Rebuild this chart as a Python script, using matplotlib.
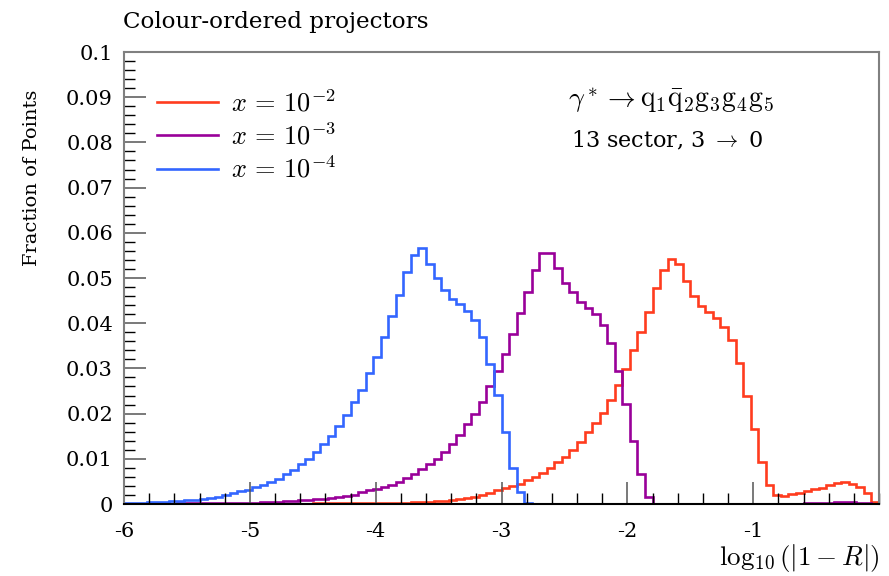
import numpy as np
import matplotlib
matplotlib.use("Agg")
import matplotlib.pyplot as plt
from matplotlib.ticker import MultipleLocator

plt.rcParams['font.family'] = ['DejaVu Serif']
plt.rcParams['mathtext.fontset'] = 'cm'
plt.rcParams['axes.unicode_minus'] = False

# 100 bins of log10(|1-R|) between -6 and 0
edges = np.linspace(-6.0, 0.0, 101)

frac_x1e2 = [
    0.0000, 0.0000, 0.0000, 0.0000, 0.0000, 0.0000, 0.0000, 0.0000, 0.0000, 0.0000,
    0.0000, 0.0000, 0.0001, 0.0001, 0.0001, 0.0001, 0.0001, 0.0001, 0.0001, 0.0001,
    0.0001, 0.0001, 0.0001, 0.0001, 0.0001, 0.0002, 0.0002, 0.0002, 0.0002, 0.0002,
    0.0002, 0.0002, 0.0002, 0.0002, 0.0003, 0.0003, 0.0003, 0.0003, 0.0004, 0.0004,
    0.0005, 0.0006, 0.0007, 0.0008, 0.0010, 0.0013, 0.0016, 0.0020, 0.0024, 0.0031,
    0.0035, 0.0040, 0.0044, 0.0052, 0.0059, 0.0068, 0.0079, 0.0092, 0.0105, 0.0119,
    0.0138, 0.0159, 0.0180, 0.0201, 0.0230, 0.0263, 0.0299, 0.0341, 0.0381, 0.0424,
    0.0477, 0.0517, 0.0542, 0.0532, 0.0493, 0.0460, 0.0439, 0.0424, 0.0412, 0.0392,
    0.0363, 0.0311, 0.0240, 0.0166, 0.0094, 0.0042, 0.0021, 0.0018, 0.0022, 0.0025,
    0.0029, 0.0033, 0.0036, 0.0041, 0.0046, 0.0048, 0.0044, 0.0038, 0.0025, 0.0005,
]

frac_x1e3 = [
    0.0001, 0.0001, 0.0001, 0.0001, 0.0001, 0.0001, 0.0001, 0.0002, 0.0002, 0.0002,
    0.0002, 0.0002, 0.0002, 0.0002, 0.0003, 0.0003, 0.0003, 0.0003, 0.0004, 0.0005,
    0.0005, 0.0006, 0.0007, 0.0008, 0.0009, 0.0010, 0.0012, 0.0014, 0.0016, 0.0018,
    0.0021, 0.0026, 0.0031, 0.0034, 0.0037, 0.0042, 0.0049, 0.0057, 0.0066, 0.0077,
    0.0088, 0.0100, 0.0116, 0.0133, 0.0153, 0.0176, 0.0199, 0.0226, 0.0260, 0.0295,
    0.0331, 0.0376, 0.0422, 0.0470, 0.0518, 0.0555, 0.0555, 0.0523, 0.0490, 0.0468,
    0.0448, 0.0434, 0.0420, 0.0396, 0.0357, 0.0295, 0.0221, 0.0140, 0.0066, 0.0016,
    0.0001, 0.0000, 0.0000, 0.0000, 0.0000, 0.0000, 0.0000, 0.0000, 0.0000, 0.0000,
    0.0000, 0.0000, 0.0000, 0.0000, 0.0000, 0.0000, 0.0000, 0.0000, 0.0001, 0.0001,
    0.0002, 0.0002, 0.0003, 0.0003, 0.0004, 0.0004, 0.0004, 0.0003, 0.0002, 0.0001,
]

frac_x1e4 = [
    0.0003, 0.0003, 0.0003, 0.0004, 0.0005, 0.0005, 0.0006, 0.0007, 0.0008, 0.0009,
    0.0011, 0.0014, 0.0016, 0.0020, 0.0024, 0.0029, 0.0032, 0.0038, 0.0043, 0.0049,
    0.0056, 0.0066, 0.0075, 0.0088, 0.0100, 0.0114, 0.0132, 0.0150, 0.0173, 0.0197,
    0.0225, 0.0252, 0.0290, 0.0326, 0.0369, 0.0416, 0.0462, 0.0514, 0.0551, 0.0566,
    0.0531, 0.0501, 0.0473, 0.0454, 0.0442, 0.0428, 0.0406, 0.0369, 0.0310, 0.0241,
    0.0159, 0.0080, 0.0026, 0.0003, 0.0000, 0.0000, 0.0000, 0.0000, 0.0000, 0.0000,
    0.0000, 0.0000, 0.0000, 0.0000, 0.0000, 0.0000, 0.0000, 0.0000, 0.0000, 0.0000,
    0.0000, 0.0000, 0.0000, 0.0000, 0.0000, 0.0000, 0.0000, 0.0000, 0.0000, 0.0000,
    0.0000, 0.0000, 0.0000, 0.0000, 0.0000, 0.0000, 0.0000, 0.0000, 0.0000, 0.0000,
    0.0000, 0.0000, 0.0000, 0.0000, 0.0000, 0.0000, 0.0000, 0.0000, 0.0000, 0.0000,
]

labels = [r'$x\,=\,10^{-2}$', r'$x\,=\,10^{-3}$', r'$x\,=\,10^{-4}$']
colors = ['#ff3c1e', '#990099', '#3366ff']

fig = plt.figure(figsize=(8.89, 5.76), dpi=100)
ax = fig.add_axes([0.1395, 0.125, 0.8493, 0.7847])

for vals, lab, col in zip([frac_x1e2, frac_x1e3, frac_x1e4], labels, colors):
    ax.stairs(vals, edges, color=col, linewidth=1.9, label=lab)

ax.set_xlim(-6, 0)
ax.set_ylim(0, 0.1)

# ROOT-like frame and inward ticks
for side in ['left', 'top', 'right']:
    ax.spines[side].set_color('#808080')
    ax.spines[side].set_linewidth(1.5)
ax.spines['bottom'].set_color('black')
ax.spines['bottom'].set_linewidth(1.5)

ax.xaxis.set_major_locator(MultipleLocator(1))
ax.xaxis.set_minor_locator(MultipleLocator(0.2))
ax.yaxis.set_major_locator(MultipleLocator(0.01))
ax.yaxis.set_minor_locator(MultipleLocator(0.002))
ax.tick_params(axis='both', which='major', direction='in', length=16, width=1.1,
               color='#555555', labelsize=15, pad=8)
ax.tick_params(axis='x', which='major', pad=13)
ax.tick_params(axis='both', which='minor', direction='in', length=8, width=1.0,
               color='black')
ax.tick_params(axis='x', which='both', top=False)
ax.tick_params(axis='y', which='both', right=False)

ax.set_xticks([-6, -5, -4, -3, -2, -1])
ax.set_xticklabels(['-6', '-5', '-4', '-3', '-2', '-1'])
ax.set_yticks([0, 0.01, 0.02, 0.03, 0.04, 0.05, 0.06, 0.07, 0.08, 0.09, 0.1])
ax.set_yticklabels(['0', '0.01', '0.02', '0.03', '0.04', '0.05', '0.06', '0.07',
                    '0.08', '0.09', '0.1'])

fig.text(0.9888, 0.003, r'$\log_{10}(|1-R|)$', ha='right', va='bottom', fontsize=19.5)
fig.text(0.036, 0.691, 'Fraction of Points', rotation=90, ha='center', va='center',
         fontsize=14)
fig.text(0.138, 0.962, 'Colour-ordered projectors', ha='left', va='center', fontsize=16.6)

ax.legend(loc='upper left', bbox_to_anchor=(0.03, 0.94), frameon=False, fontsize=19,
          handlelength=2.3, handletextpad=0.5, labelspacing=0.25, borderaxespad=0)

ax.text(0.725, 0.894, r'$\gamma^* \rightarrow \mathrm{q}_1\bar{\mathrm{q}}_2\mathrm{g}_3\mathrm{g}_4\mathrm{g}_5$',
        transform=ax.transAxes, ha='center', va='center', fontsize=20)
ax.text(0.72, 0.803, r'13 sector, 3 $\rightarrow$ 0', transform=ax.transAxes,
        ha='center', va='center', fontsize=16)

fig.savefig('out.png', dpi=100)
